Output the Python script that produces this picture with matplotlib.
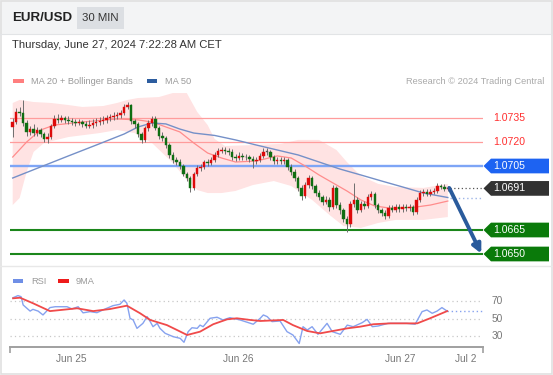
import matplotlib
matplotlib.use('Agg')
import matplotlib.pyplot as plt
from matplotlib.patches import Rectangle, Polygon
import matplotlib.transforms as mtransforms
import numpy as np

plt.rcParams['font.family'] = ['Liberation Sans', 'DejaVu Sans']

W, H = 553, 375

# ---------------- data ----------------
first_open = 1.07294
closes = [
    1.07325, 1.07388, 1.07381, 1.07319, 1.07263, 1.07281, 1.07256, 1.07275, 1.07250, 1.07219,
    1.07231, 1.07300, 1.07344, 1.07338, 1.07350, 1.07338, 1.07331, 1.07325, 1.07319, 1.07325,
    1.07313, 1.07300, 1.07306, 1.07319, 1.07325, 1.07331, 1.07338, 1.07350, 1.07356, 1.07363,
    1.07369, 1.07381, 1.07419, 1.07431, 1.07331, 1.07313, 1.07250, 1.07213, 1.07288, 1.07319,
    1.07344, 1.07288, 1.07238, 1.07225, 1.07181, 1.07119, 1.07088, 1.07075, 1.07050, 1.07000,
    1.06975, 1.06913, 1.07000, 1.07038, 1.07044, 1.07075, 1.07069, 1.07088, 1.07119, 1.07144,
    1.07150, 1.07144, 1.07138, 1.07106, 1.07100, 1.07113, 1.07106, 1.07106, 1.07094, 1.07081,
    1.07088, 1.07113, 1.07138, 1.07138, 1.07106, 1.07081, 1.07088, 1.07081, 1.07088, 1.07044,
    1.07013, 1.06975, 1.06913, 1.06863, 1.06931, 1.06975, 1.06925, 1.06881, 1.06856, 1.06825,
    1.06838, 1.06794, 1.06913, 1.06806, 1.06775, 1.06719, 1.06688, 1.06813, 1.06838, 1.06775,
    1.06813, 1.06800, 1.06856, 1.06875, 1.06806, 1.06775, 1.06756, 1.06738, 1.06788, 1.06775,
    1.06794, 1.06781, 1.06794, 1.06788, 1.06794, 1.06763, 1.06838, 1.06881, 1.06888, 1.06875,
    1.06888, 1.06894, 1.06925, 1.06919, 1.06906, 1.06913]
highs = [
    1.07350, 1.07410, 1.07420, 1.07463, 1.07340, 1.07300, 1.07310, 1.07295, 1.07290, 1.07265,
    1.07255, 1.07315, 1.07370, 1.07375, 1.07370, 1.07365, 1.07360, 1.07350, 1.07345, 1.07345,
    1.07340, 1.07330, 1.07335, 1.07345, 1.07350, 1.07355, 1.07360, 1.07370, 1.07375, 1.07385,
    1.07390, 1.07400, 1.07435, 1.07450, 1.07440, 1.07345, 1.07325, 1.07265, 1.07300, 1.07335,
    1.07365, 1.07360, 1.07300, 1.07260, 1.07240, 1.07195, 1.07135, 1.07105, 1.07095, 1.07065,
    1.07015, 1.06990, 1.07015, 1.07055, 1.07065, 1.07090, 1.07095, 1.07105, 1.07135, 1.07160,
    1.07170, 1.07170, 1.07165, 1.07155, 1.07125, 1.07135, 1.07130, 1.07125, 1.07120, 1.07110,
    1.07105, 1.07130, 1.07160, 1.07160, 1.07150, 1.07120, 1.07105, 1.07105, 1.07105, 1.07100,
    1.07060, 1.07030, 1.06990, 1.06930, 1.06950, 1.06995, 1.06990, 1.06940, 1.06900, 1.06870,
    1.06860, 1.06855, 1.06930, 1.06925, 1.06825, 1.06790, 1.06735, 1.06830, 1.06944, 1.06855,
    1.06830, 1.06830, 1.06875, 1.06895, 1.06890, 1.06820, 1.06790, 1.06775, 1.06805, 1.06805,
    1.06810, 1.06810, 1.06810, 1.06810, 1.06810, 1.06805, 1.06855, 1.06900, 1.06905, 1.06905,
    1.06905, 1.06910, 1.06945, 1.06940, 1.06935, 1.06925]
lows = [
    1.07231, 1.07310, 1.07360, 1.07300, 1.07240, 1.07245, 1.07240, 1.07235, 1.07230, 1.07200,
    1.07195, 1.07220, 1.07290, 1.07320, 1.07325, 1.07320, 1.07315, 1.07305, 1.07300, 1.07305,
    1.07295, 1.07285, 1.07285, 1.07290, 1.07300, 1.07305, 1.07315, 1.07320, 1.07330, 1.07340,
    1.07345, 1.07350, 1.07370, 1.07405, 1.07315, 1.07290, 1.07230, 1.07194, 1.07200, 1.07270,
    1.07300, 1.07275, 1.07220, 1.07205, 1.07165, 1.07100, 1.07070, 1.07055, 1.07030, 1.06985,
    1.06955, 1.06888, 1.06900, 1.06985, 1.07020, 1.07030, 1.07050, 1.07055, 1.07075, 1.07105,
    1.07130, 1.07125, 1.07120, 1.07090, 1.07080, 1.07085, 1.07090, 1.07085, 1.07075, 1.07038,
    1.07065, 1.07075, 1.07100, 1.07120, 1.07090, 1.07065, 1.07065, 1.07060, 1.07065, 1.07025,
    1.06995, 1.06955, 1.06895, 1.06840, 1.06850, 1.06915, 1.06905, 1.06860, 1.06835, 1.06805,
    1.06810, 1.06770, 1.06780, 1.06790, 1.06750, 1.06700, 1.06638, 1.06670, 1.06795, 1.06755,
    1.06760, 1.06780, 1.06785, 1.06840, 1.06790, 1.06755, 1.06735, 1.06720, 1.06725, 1.06760,
    1.06760, 1.06765, 1.06765, 1.06770, 1.06770, 1.06745, 1.06750, 1.06825, 1.06865, 1.06860,
    1.06860, 1.06875, 1.06880, 1.06905, 1.06895, 1.06895]
opens = [first_open] + closes[:-1]

ma20_x = [0, 4, 8, 12, 20, 30, 36, 40, 44, 48, 52, 56, 60, 64, 70, 76, 80, 84, 88, 92,
          96, 100, 104, 108, 112, 116, 120, 125]
ma20 = [1.07106, 1.07200, 1.07275, 1.07306, 1.07325, 1.07344, 1.07338, 1.07325, 1.07294,
        1.07263, 1.07194, 1.07131, 1.07100, 1.07075, 1.07081, 1.07113, 1.07100, 1.07050,
        1.06994, 1.06944, 1.06894, 1.06838, 1.06800, 1.06788, 1.06788, 1.06794, 1.06806, 1.06831]

ma50_x = [0, 8, 16, 24, 32, 36, 40, 44, 48, 52, 58, 64, 70, 76, 82, 88, 94, 100, 106, 112, 118, 125]
ma50 = [1.06975, 1.07044, 1.07113, 1.07181, 1.07250, 1.07294, 1.07319, 1.07313, 1.07281,
        1.07256, 1.07241, 1.07213, 1.07181, 1.07150, 1.07119, 1.07075, 1.07031, 1.06994,
        1.06956, 1.06919, 1.06881, 1.06853]

bb_up_x = [0, 2, 6, 11, 16, 20, 26, 30, 33, 36, 42, 46, 50, 53, 56, 58, 61, 69, 77, 82, 88,
           93, 96, 100, 105, 110, 118, 125]
bb_up = [1.07444, 1.07463, 1.07450, 1.07444, 1.07431, 1.07419, 1.07425, 1.07444, 1.07463,
         1.07475, 1.07481, 1.07506, 1.07506, 1.07388, 1.07306, 1.07219, 1.07175, 1.07181,
         1.07188, 1.07213, 1.07213, 1.07150, 1.07075, 1.06988, 1.06938, 1.06919, 1.06913, 1.06938]
bb_lo_x = [0, 2, 4, 6, 9, 16, 25, 30, 35, 40, 46, 50, 53, 56, 60, 64, 69, 75, 80, 86, 91, 95,
           100, 105, 110, 118, 125]
bb_lo = [1.06806, 1.06850, 1.07013, 1.07138, 1.07194, 1.07231, 1.07256, 1.07275, 1.07256,
         1.07194, 1.07069, 1.06963, 1.06900, 1.06881, 1.06881, 1.06894, 1.06931, 1.06956,
         1.06925, 1.06838, 1.06744, 1.06675, 1.06663, 1.06694, 1.06713, 1.06713, 1.06731]

rsi_x = [0.1, 1.5, 2.4, 3.0, 5.0, 5.8, 7.3, 8.7, 10.7, 12.2, 15.6, 17.0, 18.8, 20.2, 22.2,
         24.2, 25.9, 28.8, 30.8, 32.0, 32.8, 33.7, 34.6, 35.7, 37.4, 38.6, 39.5, 40.3, 41.5,
         42.3, 43.8, 46.1, 48.1, 49.2, 50.4, 51.5, 53.0, 53.8, 54.7, 56.7, 58.7, 60.4, 62.4,
         65.3, 69.1, 71.1, 72.0, 73.1, 74.5, 76.8, 78.8, 80.5, 82.3, 83.4, 84.6, 86.0, 87.7,
         90.3, 91.8, 94.1, 96.1, 97.8, 100.4, 101.8, 103.3, 105.0, 107.8, 110.4, 113.2,
         115.6, 117.6, 119.0, 120.5, 121.9, 123.3, 124.8]
rsi = [74.3, 76.7, 75.5, 66, 59, 61, 59, 54.6, 63, 64, 64, 61.5, 64, 57, 58.4, 57.2, 60.3,
       65.2, 66.8, 71.7, 68, 50.8, 48.9, 39.3, 45, 52.7, 47, 41.2, 45, 39.3, 33.6, 29.8,
       27.9, 23.4, 35.5, 40, 39.3, 43, 41.2, 50.8, 52, 48.9, 51.5, 48.9, 44, 50.8, 54.6,
       52.7, 47, 47.7, 35.5, 31.7, 22, 41.2, 37.4, 41.2, 32.5, 45, 35.5, 32.5, 43, 41.2,
       45.8, 49.6, 41.2, 42, 45, 45, 45, 44, 58.4, 60.3, 56.5, 59, 63, 59]
rsi_ma_x = [0.1, 2.1, 5.8, 10.7, 15.6, 18.5, 23.1, 28.0, 32.8, 36.6, 39.5, 44.3, 47.2, 50.1,
            53.8, 57.6, 61.6, 64.4, 68.2, 71.1, 77.7, 80.5, 84.6, 88.3, 92.0, 96.1, 99.8,
            103.6, 108.5, 116.2, 119.9, 124.8]
rsi_ma = [73.6, 74.3, 68, 59, 61, 62.2, 59, 61.4, 65.2, 56.5, 48.9, 43, 37.4, 31.7, 35.5,
          44, 49.6, 50.8, 48.9, 47.7, 48.9, 43, 36.3, 33.6, 36.3, 39.3, 41.2, 44, 45, 45,
          50.8, 59]

resistances = [1.0735, 1.0720]
pivot = 1.0705
last_price = 1.0691
supports = [1.0665, 1.0650]
tick_pos = [16.75, 64.7, 111.3, 130.0]
tick_labels = ['Jun 25', 'Jun 26', 'Jun 27', 'Jul 2']
rsi_levels = [70, 50, 30]

# ---------------- figure ----------------
fig = plt.figure(figsize=(W / 100, H / 100), dpi=100)
fig.patch.set_facecolor('white')

def fx(px):
    return px / W

def fy(py):
    return 1 - py / H

# header
fig.add_artist(Rectangle((0, fy(34)), 1, 34 / H, transform=fig.transFigure,
                         facecolor='#f3f4f5', edgecolor='none', zorder=0))
fig.add_artist(plt.Line2D([0, 1], [fy(34), fy(34)], transform=fig.transFigure,
                          color='#e2e4e6', lw=0.8))
fig.text(fx(12), fy(18), 'EUR/USD', fontsize=9.6, fontweight='bold', color='#222222',
         va='center', ha='left')
fig.add_artist(Rectangle((fx(77), fy(29)), 47 / W, 22 / H, transform=fig.transFigure,
                         facecolor='#dcdfe3', edgecolor='none'))
fig.text(fx(100.5), fy(18), '30 MIN', fontsize=8.2, color='#333333', va='center', ha='center')
fig.text(fx(12), fy(45), 'Thursday, June 27, 2024 7:22:28 AM CET', fontsize=8.1,
         color='#333333', va='center', ha='left')

# legend main
fig.add_artist(Rectangle((fx(13), fy(83)), 11 / W, 4 / H, transform=fig.transFigure,
                         facecolor='#ff7f7f', edgecolor='none'))
fig.text(fx(31), fy(81), 'MA 20 + Bollinger Bands', fontsize=6.7, color='#9a9a9a',
         va='center', ha='left')
fig.add_artist(Rectangle((fx(147), fy(83)), 10 / W, 4 / H, transform=fig.transFigure,
                         facecolor='#2d5d9f', edgecolor='none'))
fig.text(fx(165), fy(81), 'MA 50', fontsize=6.7, color='#9a9a9a', va='center', ha='left')
fig.text(fx(544), fy(81), 'Research \u00a9 2024 Trading Central', fontsize=6.7,
         color='#aaaaaa', va='center', ha='right')

# separators / frame
fig.add_artist(plt.Line2D([0, 1], [fy(265.5), fy(265.5)], transform=fig.transFigure,
                          color='#e8e8e8', lw=1))
fig.add_artist(Rectangle((0.001, 0.003), 0.997, 0.994, transform=fig.transFigure,
                         facecolor='none', edgecolor='#e0e0e0', lw=1.2))

# ---------------- main price axes ----------------
xmin, xmax = -0.78, 135.1
ax = fig.add_axes([fx(10), fy(262), 473 / W, 170 / H])
ax.set_xlim(xmin, xmax)
ax.set_ylim(1.0645, 1.075125)
ax.axis('off')

# bollinger fill
ax.fill(list(bb_up_x) + list(bb_lo_x[::-1]), list(bb_up) + list(bb_lo[::-1]),
        color='#ffe3e3', lw=0, zorder=1)

# level lines
for r in resistances:
    ax.axhline(r, color='#ff9c9c', lw=0.9, zorder=2)
ax.axhline(pivot, color='#7ea5f6', lw=1.7, zorder=2)
for s in supports:
    ax.axhline(s, color='#1b861b', lw=1.5, zorder=2)

# MAs
ax.plot(ma20_x, ma20, color='#ff8c8c', lw=0.9, zorder=3)
ax.plot(ma50_x, ma50, color='#7590c8', lw=1.0, zorder=3)
ax.hlines(ma50[-1], ma50_x[-1] + 0.5, xmax, color='#9db4e6', lw=1.0,
          linestyles=(0, (1, 2)), zorder=3)

# candles
idx = np.arange(len(closes))
o = np.array(opens); c = np.array(closes)
hi = np.array(highs); lo = np.array(lows)
ax.vlines(idx, lo, hi, color='#6e6e6e', lw=0.7, zorder=4)
cols = np.where(c > o, '#dd0a0a', np.where(c < o, '#0f6e12', '#555555'))
bottoms = np.minimum(o, c)
heights = np.maximum(np.abs(c - o), 0.00003)
ax.bar(idx, heights, bottom=bottoms, width=0.7, color=cols, edgecolor=cols,
       lw=0.3, zorder=5)

# last price dotted line
ax.hlines(last_price, idx[-1] + 0.5, xmax, color='#555555', lw=0.9,
          linestyles=(0, (1, 2)), zorder=3)

# forecast arrow
ax.annotate('', xy=(134.6, supports[1] + 0.00003), xytext=(idx[-1] + 0.4, closes[-1]),
            arrowprops=dict(arrowstyle='-|>', color='#2a5b9c', lw=2.8,
                            mutation_scale=13, shrinkA=0, shrinkB=0),
            zorder=6, annotation_clip=False)

# tags
trans = mtransforms.blended_transform_factory(fig.transFigure, ax.transData)
half = 0.00046

def tag(price, color, text):
    pts = [(fx(483.5), price), (fx(491), price + half), (fx(549), price + half),
           (fx(549), price - half), (fx(491), price - half)]
    ax.add_patch(Polygon(pts, closed=True, transform=trans, facecolor=color,
                         edgecolor='none', clip_on=False, zorder=7))
    ax.text(fx(493), price, text, transform=trans, color='white', fontsize=7.6,
            va='center', ha='left', clip_on=False, zorder=8)

for r in resistances:
    ax.text(fx(493), r, f'{r:.4f}', transform=trans, color='#ff3030', fontsize=7.6,
            va='center', ha='left', clip_on=False)
tag(pivot, '#1d63f2', f'{pivot:.4f}')
tag(last_price, '#323232', f'{last_price:.4f}')
for s in supports:
    tag(s, '#0a7a0a', f'{s:.4f}')

# ---------------- RSI axes ----------------
ax2 = fig.add_axes([fx(10), fy(347), 473 / W, 57 / H])
ax2.set_xlim(xmin, xmax)
ax2.set_ylim(18, 83.1)
for sp in ['top', 'right', 'left']:
    ax2.spines[sp].set_visible(False)
ax2.spines['bottom'].set_color('#a0a0a0')
ax2.spines['bottom'].set_linewidth(1.4)
ax2.set_yticks([])
ax2.set_xticks(tick_pos)
ax2.set_xticklabels(tick_labels)
ax2.tick_params(axis='x', which='major', length=0, labelsize=7.3, labelcolor='#777777', pad=5)
ax2.set_xticks([xmin, xmax], minor=True)
ax2.tick_params(axis='x', which='minor', length=4, width=1.2, color='#a0a0a0')
ax2.patch.set_alpha(0)

for lv in rsi_levels:
    ax2.axhline(lv, color='#c8c8c8', lw=0.9, linestyle=(0, (1, 2.5)), zorder=1)
    ax2.text(fx(492), lv, str(lv), transform=mtransforms.blended_transform_factory(
        fig.transFigure, ax2.transData), fontsize=7.3, color='#777777', va='center',
        ha='left', clip_on=False)

ax2.plot(rsi_x, rsi, color='#86a2ef', lw=1.0, zorder=3)
ax2.plot(rsi_ma_x, rsi_ma, color='#f04a4a', lw=1.3, zorder=4)
ax2.hlines(rsi[-1], rsi_x[-1], xmax, color='#86a2ef', lw=1.0, linestyles=(0, (1, 2)), zorder=3)

# RSI legend
fig.add_artist(Rectangle((fx(13), fy(283)), 10 / W, 4 / H, transform=fig.transFigure,
                         facecolor='#6f8fe6', edgecolor='none'))
fig.text(fx(31), fy(281), 'RSI', fontsize=6.7, color='#9a9a9a', va='center', ha='left')
fig.add_artist(Rectangle((fx(58), fy(283)), 11 / W, 4 / H, transform=fig.transFigure,
                         facecolor='#ee1c1c', edgecolor='none'))
fig.text(fx(76), fy(281), '9MA', fontsize=6.7, color='#9a9a9a', va='center', ha='left')

fig.savefig('out.png', dpi=100)
